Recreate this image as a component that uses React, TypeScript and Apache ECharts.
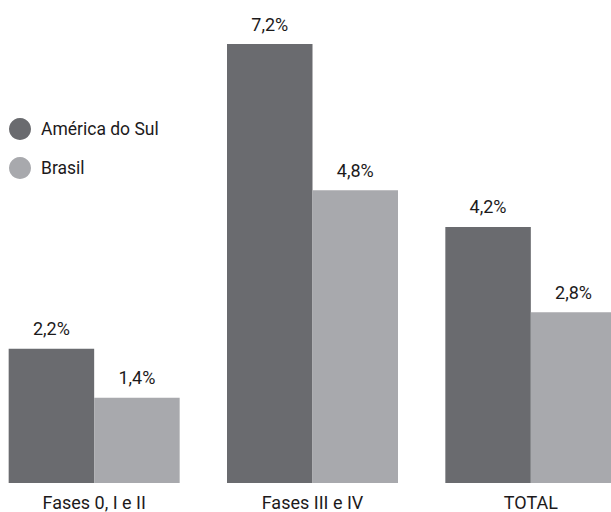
import React, { useEffect, useRef } from "react";
import * as echarts from "echarts";

const categories = ["Fases 0, I e II", "Fases III e IV", "TOTAL"];
const americaDoSul = [2.2, 7.2, 4.2];
const brasil = [1.4, 4.8, 2.8];
const seriesNames = ["América do Sul", "Brasil"];

const FONT = "Roboto, 'DejaVu Sans Condensed', sans-serif";
const DARK = "#6a6b6f";
const LIGHT = "#a8a9ad";
const TEXT = "#1c1a1b";

const fmt = (v: number) => v.toFixed(1).replace(".", ",") + "%";

export default function App() {
  const ref = useRef<HTMLDivElement>(null);
  useEffect(() => {
    document.body.style.margin = "0";
    document.body.style.overflow = "hidden";
    document.documentElement.style.overflow = "hidden";
    const chart = echarts.init(ref.current!, undefined, { renderer: "svg" });
    const label = {
      show: true,
      position: "top" as const,
      distance: 11,
      color: TEXT,
      fontFamily: FONT,
      fontSize: 18,
      formatter: (p: any) => fmt(p.value),
    };
    chart.setOption({
      animation: false,
      backgroundColor: "#ffffff",
      legend: {
        orient: "vertical",
        left: 24,
        top: 118,
        padding: 0,
        itemWidth: 22,
        itemHeight: 22,
        itemGap: 17,
        icon: "circle",
        textStyle: { color: TEXT, fontFamily: FONT, fontSize: 17.5, padding: [0, 0, 0, 5] },
        data: seriesNames,
      },
      grid: { left: 0, right: 0, top: 44, bottom: 29, containLabel: false },
      xAxis: {
        type: "category",
        data: categories,
        axisLine: { show: false },
        axisTick: { show: false },
        axisLabel: { color: TEXT, fontFamily: FONT, fontSize: 18, margin: 10 },
      },
      yAxis: {
        type: "value",
        min: 0,
        max: 7.2,
        show: false,
        splitLine: { show: false },
      },
      series: [
        {
          name: seriesNames[0],
          type: "bar",
          data: americaDoSul,
          barWidth: 85.5,
          barGap: "0%",
          itemStyle: { color: DARK },
          label,
        },
        {
          name: seriesNames[1],
          type: "bar",
          data: brasil,
          barWidth: 85.5,
          barGap: "0%",
          itemStyle: { color: LIGHT },
          label,
        },
      ],
    });
    return () => chart.dispose();
  }, []);
  return (
    <div
      ref={ref}
      style={{ position: "absolute", left: -15, top: 0, width: 655, height: 512 }}
    />
  );
}
